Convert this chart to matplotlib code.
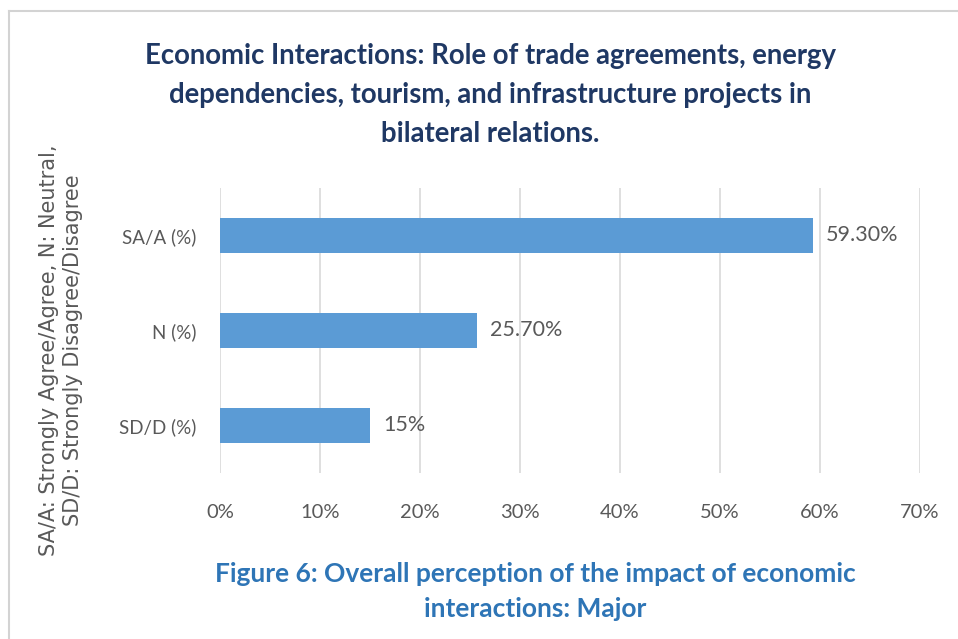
"""Economic interactions survey result as a horizontal bar chart."""
import matplotlib
matplotlib.use("Agg")
import matplotlib.pyplot as plt
from matplotlib.lines import Line2D
from matplotlib.ticker import FuncFormatter

categories = ["SD/D (%)", "N (%)", "SA/A (%)"]
values = [15.0, 25.7, 59.3]
value_labels = ["15%", "25.70%", "59.30%"]
x_ticks = [0, 10, 20, 30, 40, 50, 60, 70]

title = ("Economic Interactions: Role of trade agreements, energy\n"
         "dependencies, tourism, and infrastructure projects in\n"
         "bilateral relations.")
y_label = ("SA/A: Strongly Agree/Agree, N: Neutral,\n"
           "SD/D: Strongly Disagree/Disagree")
caption = ("Figure 6: Overall perception of the impact of economic\n"
           "interactions: Major")

BAR = "#5B9BD5"
GRID = "#D9D9D9"
TEXT = "#595959"
NAVY = "#1F3864"
TEAL = "#2E75B6"

plt.rcParams["font.family"] = ["Lato", "DejaVu Sans"]

fig = plt.figure(figsize=(9.58, 6.39), dpi=100)
ax = fig.add_axes([0.2296, 0.2598, 0.7307, 0.446])

ax.barh(categories, values, height=0.36, color=BAR, zorder=3)
for i, (v, lab) in enumerate(zip(values, value_labels)):
    ax.text(v + 1.3, i, lab, va="center", ha="left", fontsize=15.5, color=TEXT)

ax.set_xlim(0, 70)
ax.set_ylim(-0.5, 2.5)
ax.set_xticks(x_ticks)
ax.xaxis.set_major_formatter(FuncFormatter(lambda v, _: f"{v:.0f}%"))
ax.grid(axis="x", color=GRID, linewidth=1.2, zorder=0)
ax.grid(axis="y", visible=False)
for s in ax.spines.values():
    s.set_visible(False)
ax.tick_params(axis="both", length=0, labelcolor=TEXT)
ax.tick_params(axis="x", pad=22, labelsize=14.5)
ax.tick_params(axis="y", pad=17, labelsize=13.5)

fig.text(0.512, 0.851, title, ha="center", va="center", fontsize=19.8,
         fontweight="bold", color=NAVY, linespacing=1.62)
fig.text(0.0637, 0.452, y_label, ha="center", va="center", rotation=90,
         fontsize=15, color=TEXT, family="DejaVu Sans", linespacing=1.27)
fig.text(0.5585, 0.075, caption, ha="center", va="center", fontsize=19,
         fontweight="bold", color=TEAL, linespacing=1.55)

# light frame along the top and left edges
fig.add_artist(Line2D([0.0094, 1.0], [0.983, 0.983], color="#D3D3D3", lw=1.5))
fig.add_artist(Line2D([0.0094, 0.0094], [0.0, 0.983], color="#D3D3D3", lw=1.5))

fig.savefig("out.png", dpi=100)
